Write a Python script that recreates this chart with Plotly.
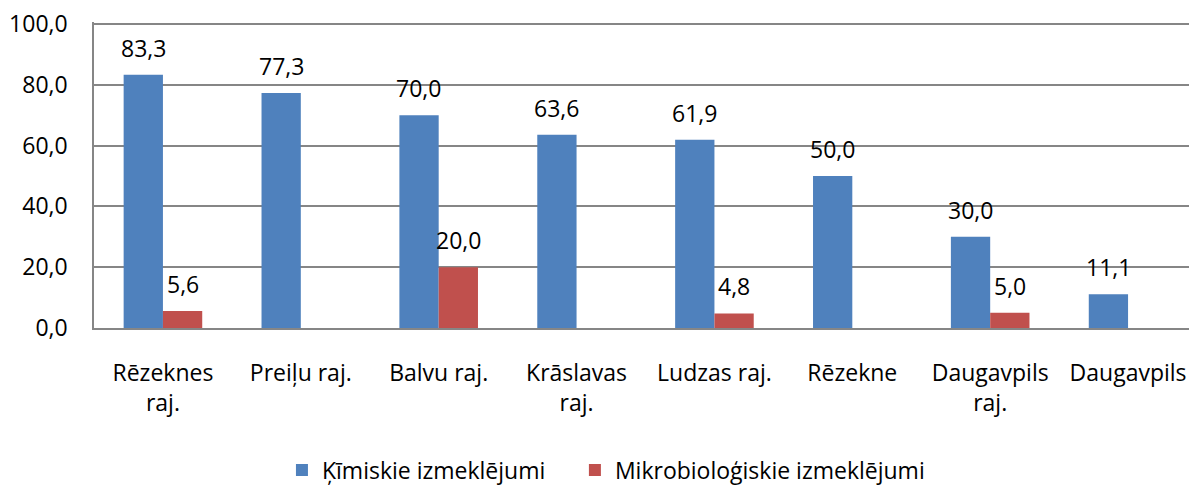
import plotly.graph_objects as go

categories = ["Rēzeknes<br>raj.", "Preiļu raj.", "Balvu raj.", "Krāslavas<br>raj.",
              "Ludzas raj.", "Rēzekne", "Daugavpils<br>raj.", "Daugavpils"]
kimiskie = [83.3, 77.3, 70.0, 63.6, 61.9, 50.0, 30.0, 11.1]
mikrobio = [5.6, None, 20.0, None, 4.8, None, 5.0, None]
y_ticks = [0, 20, 40, 60, 80, 100]

font_family = "Open Sans"
FS = 23
BAR_HALF = 19.8  # px offset of each bar centre from category centre

fig = go.Figure()
fig.add_trace(go.Bar(
    x=categories, y=kimiskie, name="Ķīmiskie izmeklējumi",
    marker=dict(color="#4F81BD", line=dict(width=0)), legend="legend",
))
fig.add_trace(go.Bar(
    x=categories, y=mikrobio, name="Mikrobioloģiskie izmeklējumi",
    marker=dict(color="#C0504D", line=dict(width=0)), legend="legend2",
))

annotations = []
for series, shift in ((kimiskie, -BAR_HALF), (mikrobio, BAR_HALF)):
    for cat, val in zip(categories, series):
        if val is None:
            continue
        annotations.append(dict(
            x=cat, y=val, xref="x", yref="y", text=f"{val:.1f}".replace(".", ","),
            showarrow=False, xshift=shift, yshift=9, yanchor="bottom",
            font=dict(size=FS, color="#000000", family=font_family),
        ))

PLOT_H = 306
leg_y = -(462 - 320) / PLOT_H
leg_common = dict(orientation="h", y=leg_y, yanchor="middle", xanchor="left",
                  font=dict(size=FS, family=font_family, color="#000000"),
                  itemwidth=30, bgcolor="rgba(0,0,0,0)")

# page body has an 8px margin: canvas is shrunk so the plot lands where the reference has it
fig.update_layout(
    width=1189, height=477,
    margin=dict(l=86, r=0, t=14, b=157, autoexpand=False),
    paper_bgcolor="white", plot_bgcolor="white",
    separators=", ",
    barmode="group", bargap=0.43, bargroupgap=0,
    font=dict(family=font_family, size=FS, color="#000000"),
    showlegend=True,
    legend=dict(x=0.1704, **leg_common),
    legend2=dict(x=0.436, **leg_common),
    annotations=annotations,
)
fig.update_xaxes(
    showline=True, linecolor="#868686", linewidth=1.5,
    showgrid=False, ticks="", tickfont=dict(size=FS),
    ticklabelstandoff=24, automargin=False, ticklabeloverflow="allow",
)
fig.update_yaxes(
    range=[0, 100 * PLOT_H / 304], tickvals=y_ticks, tickformat=".1f",
    showgrid=True, gridcolor="#868686", gridwidth=1.5,
    showline=True, linecolor="#868686", linewidth=1.5,
    ticks="", tickfont=dict(size=FS), ticklabelstandoff=20,
    zeroline=False, automargin=False, ticklabeloverflow="allow",
)

fig.write_html("out.html")
